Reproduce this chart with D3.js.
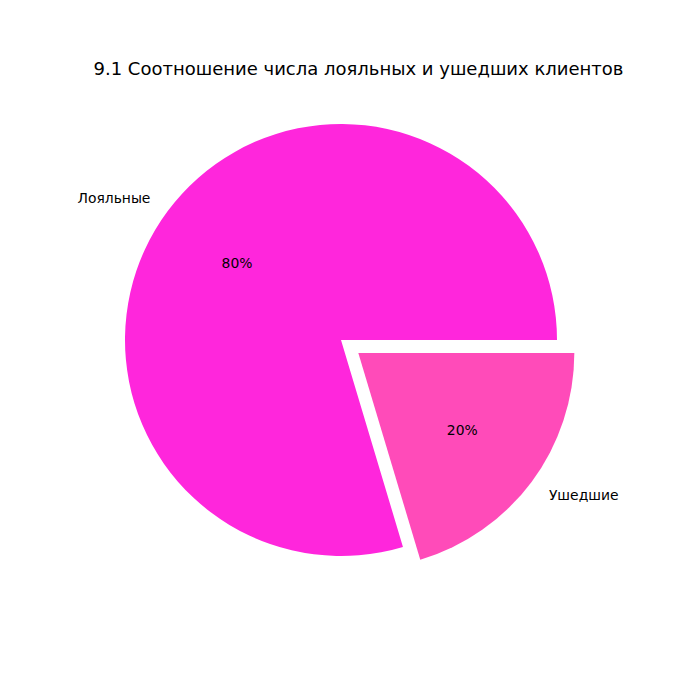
<!DOCTYPE html>
<html>
<head>
<meta charset="utf-8">
<script src="https://cdn.jsdelivr.net/npm/d3@7"></script>
<style>
  body { margin: 0; background: #fff; }
  text { font-family: "DejaVu Sans", sans-serif; fill: #000; }
</style>
</head>
<body>
<div id="chart"></div>
<script>
// Data
const labels = ['Лояльные', 'Ушедшие'];
const counts = [7963, 2037];
const colors = ['#ff26dc', '#ff4bb9'];
const explode = [0, 0.1];
const title = '9.1 Соотношение числа лояльных и ушедших клиентов';

const width = 700, height = 700;
const cx = 341, cy = 340, radius = 216;

const svg = d3.select('#chart').append('svg')
    .attr('width', width)
    .attr('height', height);

svg.append('text')
    .attr('x', 358.5)
    .attr('y', 75)
    .attr('text-anchor', 'middle')
    .attr('font-size', '18px')
    .text(title);

// matplotlib: start at 3 o'clock, counterclockwise
const pie = d3.pie()
    .sort(null)
    .startAngle(Math.PI / 2)
    .endAngle(Math.PI / 2 - 2 * Math.PI);

const arc = d3.arc().innerRadius(0).outerRadius(radius);
const total = d3.sum(counts);
const slices = pie(counts);

const pt = (a, r) => [r * Math.sin(a), -r * Math.cos(a)];

const g = svg.append('g').attr('transform', `translate(${cx},${cy})`);

slices.forEach((d, i) => {
    const mid = (d.startAngle + d.endAngle) / 2;
    const [ox, oy] = pt(mid, explode[i] * radius);
    const sg = g.append('g').attr('transform', `translate(${ox},${oy})`);

    sg.append('path')
        .attr('d', arc(d))
        .attr('fill', colors[i]);

    const [lx, ly] = pt(mid, 1.1 * radius);
    sg.append('text')
        .attr('x', lx)
        .attr('y', ly)
        .attr('text-anchor', lx > 0 ? 'start' : 'end')
        .attr('dominant-baseline', 'central')
        .attr('font-size', '13.9px')
        .text(labels[i]);

    const [px, py] = pt(mid, 0.6 * radius);
    sg.append('text')
        .attr('x', px)
        .attr('y', py)
        .attr('text-anchor', 'middle')
        .attr('dominant-baseline', 'central')
        .attr('font-size', '13.9px')
        .text(Math.round(d.value / total * 100) + '%');
});
</script>
</body>
</html>
